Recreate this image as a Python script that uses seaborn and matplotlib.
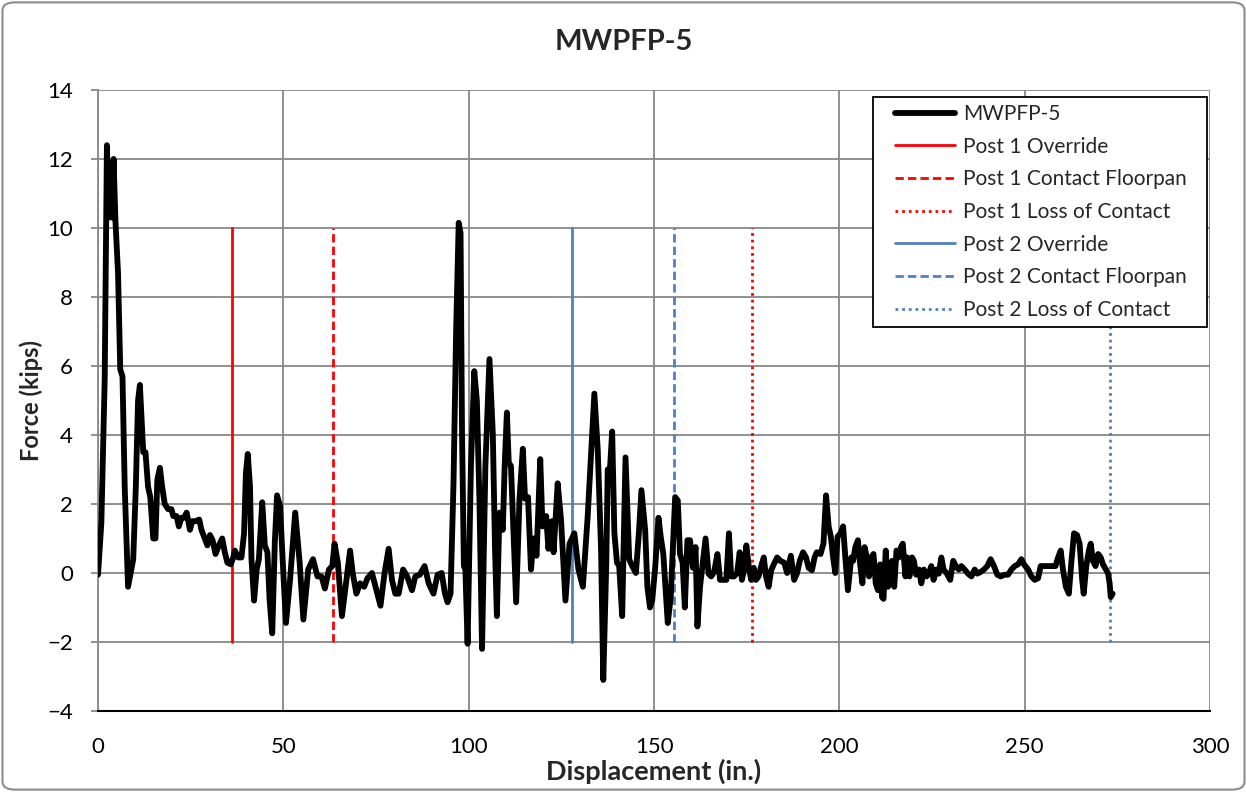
import matplotlib
matplotlib.use("Agg")
import matplotlib.pyplot as plt
from matplotlib.patches import FancyBboxPatch, Rectangle
import seaborn as sns
import pandas as pd

# force vs displacement trace
disp = [0, 0.9, 1.8, 2.4, 2.9, 3.3, 3.8, 4.2, 4.7, 5.4, 6.0, 6.6, 7.2, 8.1, 8.8, 9.5, 10.2, 10.8, 11.3, 11.7,
        12.2, 12.8, 13.5, 14.1, 14.9, 15.5, 16.0, 16.7, 17.3, 18.0, 18.9, 19.8, 20.3, 21.2, 21.8, 22.5, 23.2,
        23.9, 24.8, 25.4, 26.3, 27.3, 27.9, 28.8, 29.5, 30.2, 30.9, 31.7, 32.6, 33.5, 34.2, 34.9, 35.8, 36.5,
        36.9, 37.8, 38.7, 39.4, 39.9, 40.4, 41.0, 41.4, 42.1, 42.8, 43.4, 44.3, 45.0, 45.7, 46.3, 47.0, 47.7,
        48.3, 49.1, 49.8, 50.7, 51.8, 53.2,
        54.4, 55.4, 56.7, 58.0, 59.2, 60.3, 61.2, 62.3, 63.2, 63.8, 64.7, 65.8, 66.9, 68.0, 68.7, 69.7, 70.7,
        71.8, 72.7, 73.9, 75.1, 76.2, 77.3, 78.4, 79.3, 80.2, 81.1, 82.3, 83.4, 84.7, 85.6, 86.8, 88.1, 89.2,
        90.5, 91.6, 92.7, 93.6, 94.3, 95.1, 95.9, 96.6, 97.3, 97.8, 98.2, 98.7, 99.1, 99.7, 100.6, 101.5,
        102.2, 102.9, 103.6, 104.5, 105.6, 106.5, 107.1, 107.6, 108.3, 109.2, 109.7, 110.3, 110.8, 111.4,
        112.1, 112.8, 113.7, 114.6, 115.2, 116.0, 116.8, 117.5, 118.3, 119.3, 119.9, 120.9, 121.5, 122.4,
        122.9, 124.0, 124.9, 126.1, 127.2, 128.5, 129.6, 130.8, 132.1, 133.9, 134.8, 135.7, 136.3, 137.1,
        137.5, 138.1, 138.7, 139.3, 140.0, 140.6, 141.4, 142.3, 142.9, 143.3, 144.1, 145.1, 145.9, 146.6,
        147.6, 148.2, 148.9, 149.5, 150.3, 151.2, 151.8, 152.5, 153.2, 153.7, 154.5, 155.0, 155.7, 156.4,
        157.0, 157.7, 158.3, 159.0, 159.7, 160.5, 161.2, 161.7, 162.4, 163.2, 163.9, 164.7, 165.4, 166.2,
        167.1, 167.8, 168.7, 169.5, 170.2, 170.8, 171.6, 172.4, 173.1, 173.7, 174.4, 174.9, 175.6, 176.2,
        176.9, 177.5, 178.2, 178.9, 179.6, 180.2, 180.9, 181.6, 182.3, 183.2, 184.1, 185.1, 185.9, 186.9,
        187.8, 188.6, 189.3, 190.2, 191.0, 191.7, 192.6, 193.3, 193.9, 194.9, 195.7, 196.4, 197.1, 197.7,
        198.3, 198.9, 199.5, 200.3, 201.0, 201.6, 202.3, 203.2,
        203.7, 204.3, 205.0, 205.6, 206.2, 206.8, 207.4, 208.0, 208.6, 209.2, 209.8, 210.4, 211.0, 211.5,
        211.9, 212.5, 213.1, 213.7, 214.2, 214.8, 215.4, 216.0, 216.6, 217.1, 217.8, 218.3, 218.9, 219.6,
        220.1, 220.7, 221.5, 222.1, 222.8, 223.5, 224.1, 224.8, 225.4, 226.2, 226.8, 227.5, 228.1, 229.0,
        229.9, 230.7, 231.4, 232.2, 232.9, 233.8, 234.7, 235.6, 236.5, 237.2, 238.1, 239.0, 239.9, 240.8,
        241.7, 242.6, 243.5, 244.6, 245.5, 246.4, 247.3, 248.2, 249.1, 249.8, 250.9, 251.8, 252.7, 253.6,
        254.3, 255.2, 256.3, 257.4, 258.3, 259.0, 259.7, 260.3, 261.1, 261.9, 262.6, 263.3, 264.1, 264.8,
        265.5, 265.9, 266.6, 267.3, 267.8, 268.4, 269.1, 269.8, 270.5, 271.1, 271.9, 272.5, 272.9, 273.2,
        273.7]
force = [-0.05, 1.45, 5.6, 12.4, 10.3, 11.9, 10.3, 12.0, 10.2, 8.7, 5.9, 5.7, 2.5, -0.4, 0, 0.4, 2.5, 5.0,
         5.45, 4.6, 3.5, 3.5, 2.5, 2.2, 1.0, 1.0, 2.7, 3.05, 2.5, 2.0, 1.85, 1.85, 1.65, 1.65, 1.35, 1.6, 1.6,
         1.75, 1.25, 1.5, 1.5, 1.55, 1.25, 1.0, 0.8, 1.1, 0.95, 0.55, 0.8, 1.0, 0.6, 0.3, 0.25, 0.45, 0.65,
         0.45, 0.45, 1.15, 2.9, 3.45, 2.5, 0.4, -0.8, 0.1, 0.4, 2.05, 0.8, 0.6, -0.8, -1.75, 0.9, 2.25, 1.95,
         0.4, -1.45, -0.2, 1.75,
         0.3, -1.35, 0.1, 0.4, -0.1, -0.1, -0.45, 0.1, 0.2, 0.85, 0.3, -1.25, -0.3, 0.65, 0, -0.6, -0.3,
         -0.4, -0.15, 0, -0.5, -0.95, 0, 0.7, -0.2, -0.6, -0.6, 0.1, -0.1, -0.5, -0.1, -0.05, 0.2, -0.3,
         -0.6, -0.05, 0, -0.6, -0.85, -0.6, 2.6, 7.0, 10.15, 9.85, 4.05, 0.2, 0.1, -2.05, 3.1, 5.85,
         5.0, 2.1, -2.2, 3.1, 6.2, 4.05, 0.7, -1.25, 1.75, 1.25, 3.1, 4.65, 3.2, 3.1,
         1.15, -0.85, 2.15, 3.6, 2.15, 2.2, 0.1, 1.0, 0.5, 3.3, 1.35, 1.65, 0.7, 1.5,
         0.6, 2.6, 1.55, -0.8, 0.85, 1.15, 0.1, -0.4, 1.65, 5.2, 3.6, 0.7, -3.1, 0.2,
         3.0, 3.0, 4.1, 1.15, 0.3, 0.2, -1.25, 3.35, 1.55, 0.4, 0.2, 0, 1.15, 2.4,
         1.25, -0.4, -1.0, -0.8, 0.15, 1.6, 1.05, 0.55, -0.6, -1.45, -0.7, 0.55, 2.2, 2.1,
         0.55, 0.3, -1.0, 0.95, 0.95, 0.15, 0.75, -1.55, -0.4, 0.35, 1.0, -0.02, -0.1, 0.03,
         0.55, -0.2, -0.2, -0.2, 1.15, -0.1, -0.1, 0, 0.6, -0.2, 0.15, 0.8, 0.15, -0.2,
         0.15, -0.2, -0.1, 0.2, 0.45, -0.1, -0.4, 0.08, 0.25, 0.45, 0.35, 0.3, 0, 0.5,
         -0.2, 0, 0.35, 0.6, 0.45, 0.15, 0.08, 0.45, 0.6, 0.55, 0.85, 2.25, 1.35, 1.05,
         0.45, 0, 1.05, 1.15, 1.35, 0.45, -0.5, 0.45,
         0.35, 0.75, 0.95, 0.25, -0.3, 0.75, 0.45, -0.1, 0.45, 0.55, -0.3, -0.5, 0.25, -0.7,
         -0.75, 0.65, -0.4, -0.3, 0.35, -0.4, 0.65, 0.45, 0.75, 0.85, -0.1, 0.45, -0.1, 0.45,
         0.35, -0.05, 0.1, -0.3, 0.1, -0.1, -0.02, 0.2, -0.2, 0.1, -0.02, 0.45, 0.1, -0.02,
         -0.2, 0.35, 0.2, 0.1, 0.2, 0.1, -0.02, -0.1, 0.1, -0.02, 0.03, 0.1, 0.2, 0.4,
         0.2, -0.05, -0.1, -0.05, -0.05, 0.1, 0.2, 0.25, 0.4, 0.25, 0.1, -0.1, -0.2, -0.15,
         0.2, 0.2, 0.2, 0.2, 0.2, 0.45, 0.65, 0.1, -0.4, -0.6, 0.35, 1.15, 1.1, 0.85,
         -0.2, -0.6, 0.2, 0.65, 0.85, 0.35, 0.2, 0.55, 0.45, 0.25, 0.1, -0.02, -0.3, -0.7,
         -0.6]

event_names = ["Post 1 Override", "Post 1 Contact Floorpan", "Post 1 Loss of Contact",
               "Post 2 Override", "Post 2 Contact Floorpan", "Post 2 Loss of Contact"]
event_disp = [36.1, 63.4, 176.4, 127.9, 155.4, 273.0]
event_range = [-2, 10]

red = "#FF0000"
blue = "#4F81BD"
event_colors = [red, red, red, blue, blue, blue]
event_styles = ["-", (0, (3, 1.5)), (0, (1, 1.4)), "-", (0, (3, 1.5)), (0, (1, 1.4))]

sns.set_theme(style="white")
plt.rcParams["font.family"] = ["Lato", "DejaVu Sans"]

fig = plt.figure(figsize=(12.47, 7.92), dpi=100)
ax = fig.add_axes([0.0786, 0.1023, 0.8918, 0.7841])

df = pd.DataFrame({"Displacement": disp, "Force": force})
sns.lineplot(data=df, x="Displacement", y="Force", sort=False, color="black", linewidth=4.2,
             label="MWPFP-5", ax=ax, zorder=3)
ax.lines[0].set_solid_joinstyle("round")

for name, xv, col, ls in zip(event_names, event_disp, event_colors, event_styles):
    ax.plot([xv, xv], event_range, color=col, linestyle=ls, linewidth=2.0, label=name, zorder=2)

ax.set_xlim(0, 300)
ax.set_ylim(-4, 14)
ax.set_xticks(range(0, 301, 50))
ax.set_yticks(range(-4, 15, 2))
ax.grid(True, color="#888888", linewidth=1.3)
ax.set_axisbelow(True)

for s in ["top", "right"]:
    ax.spines[s].set_visible(False)
ax.spines["left"].set_color("#888888")
ax.spines["left"].set_linewidth(1.3)
ax.spines["bottom"].set_color("black")
ax.spines["bottom"].set_linewidth(1.5)

ax.tick_params(axis="y", which="major", length=5, width=1.3, color="#888888", pad=13,
               labelsize=16, labelcolor="black", left=True)
ax.tick_params(axis="x", which="major", length=0, pad=19, labelsize=16, labelcolor="black")

ax.set_xlabel("Displacement (in.)", fontsize=19.5, fontweight="bold", labelpad=1)
ax.set_ylabel("Force (kips)", fontsize=17, fontweight="bold", labelpad=3)
fig.text(0.5, 0.947, "MWPFP-5", ha="center", va="center", fontsize=21, fontweight="bold")

# legend box drawn separately so its side padding can be wider than its top padding
ax.add_patch(Rectangle((0.697, 0.6184), 0.3003, 0.3703, transform=ax.transAxes,
                       facecolor="white", edgecolor="black", linewidth=1.3, zorder=4))
leg = ax.legend(loc="upper left", bbox_to_anchor=(0.7167, 0.9776), borderaxespad=0, borderpad=0,
                fontsize=15, frameon=False, handlelength=2.9, handletextpad=0.35, labelspacing=0.61)
leg.set_zorder(5)

border = FancyBboxPatch((0.002, 0.003), 0.996, 0.994, boxstyle="round,pad=0,rounding_size=0.01",
                        transform=fig.transFigure, facecolor="none", edgecolor="#8c8c8c", linewidth=1.5)
fig.patches.append(border)

fig.savefig("out.png", dpi=100)
